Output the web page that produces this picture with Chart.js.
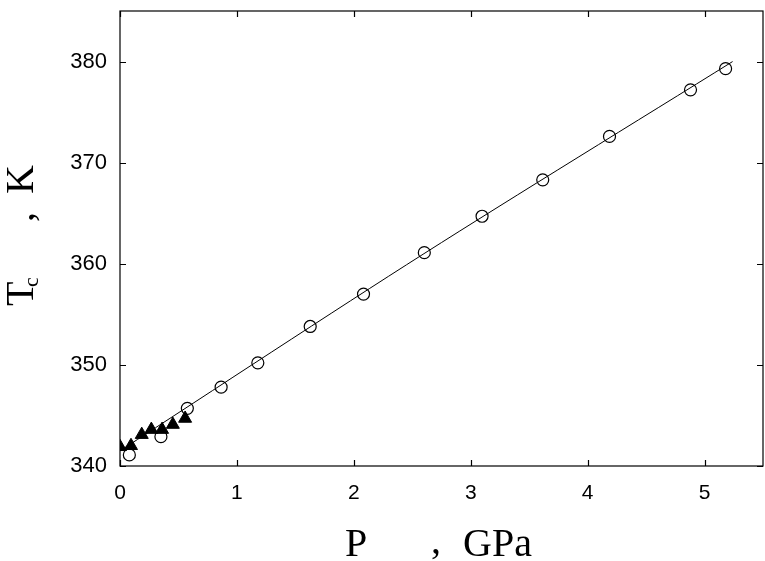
<!DOCTYPE html>
<html>
<head>
<meta charset="utf-8">
<script src="https://cdn.jsdelivr.net/npm/chart.js@4"></script>
<style>
  html, body { margin: 0; padding: 0; background: #fff; overflow: hidden; }
  canvas { display: block; }
</style>
</head>
<body>
<canvas id="c" width="765" height="561" style="width:765px;height:561px"></canvas>
<script>
// ---- data ----
const circleP = [0.08, 0.35, 0.576, 0.865, 1.179, 1.627, 2.083, 2.603, 3.097, 3.616, 4.187, 4.880, 5.180];
const circleT = [341.1, 342.9, 345.7, 347.8, 350.2, 353.8, 357.0, 361.1, 364.7, 368.3, 372.6, 377.2, 379.3];
const triP = [0.0, 0.094, 0.186, 0.268, 0.360, 0.452, 0.557];
const triT = [341.9, 342.0, 343.1, 343.6, 343.6, 344.1, 344.7];
const fitP = [0.0, 2.6, 5.24];
const fitT = [341.5, 361.0, 380.0];
const xTicks = [0, 1, 2, 3, 4, 5];
const yTicks = [340, 350, 360, 370, 380];
const xTitleParts = ['P', ',', 'GPa'];
const yTitleParts = ['T', 'c', ',', 'K'];

const toXY = (xs, ys) => xs.map((x, i) => ({ x: x, y: ys[i] }));

// pin the plot frame to the reference geometry
const AREA = { left: 120, top: 11, right: 763, bottom: 466 };
const areaPlugin = {
  id: 'area',
  afterLayout(chart) {
    const a = chart.chartArea;
    a.left = AREA.left; a.right = AREA.right; a.top = AREA.top; a.bottom = AREA.bottom;
    a.width = a.right - a.left; a.height = a.bottom - a.top;
    const x = chart.scales.x, y = chart.scales.y;
    x.left = a.left; x.right = a.right; x.width = a.width; x.top = a.bottom; x.bottom = chart.height;
    y.top = a.top; y.bottom = a.bottom; y.height = a.height; y.left = 0; y.right = a.left;
    x.configure(); y.configure();
  }
};

const framePlugin = {
  id: 'frame',
  afterDraw(chart) {
    const { ctx, chartArea: a, scales } = chart;
    ctx.save();
    ctx.strokeStyle = '#000';
    ctx.lineWidth = 1.2;
    ctx.strokeRect(a.left, a.top, a.right - a.left, a.bottom - a.top);
    const tl = 6;
    ctx.beginPath();
    scales.x.ticks.forEach(t => {
      const px = Math.round(scales.x.getPixelForValue(t.value)) + 0.5;
      ctx.moveTo(px, a.bottom); ctx.lineTo(px, a.bottom - tl);
      ctx.moveTo(px, a.top); ctx.lineTo(px, a.top + tl);
    });
    scales.y.ticks.forEach(t => {
      const py = Math.round(scales.y.getPixelForValue(t.value)) + 0.5;
      ctx.moveTo(a.left, py); ctx.lineTo(a.left + tl, py);
      ctx.moveTo(a.right, py); ctx.lineTo(a.right - tl, py);
    });
    ctx.stroke();

    // axis titles
    ctx.fillStyle = '#000';
    ctx.textBaseline = 'alphabetic';
    ctx.textAlign = 'left';
    ctx.font = '40px "Liberation Serif"';
    ctx.fillText(xTitleParts[0], 345, 556);
    ctx.fillText(xTitleParts[1], 431, 553);
    ctx.fillText(xTitleParts[2], 463, 556);

    ctx.translate(33, 306);
    ctx.rotate(-Math.PI / 2);
    ctx.font = '40px "Liberation Serif"';
    ctx.fillText(yTitleParts[0], 0, 0);
    ctx.font = '22px "Liberation Serif"';
    ctx.fillText(yTitleParts[1], 19, 5);
    ctx.font = '40px "Liberation Serif"';
    ctx.fillText(yTitleParts[2], 84, 0);
    ctx.fillText(yTitleParts[3], 112, 0);
    ctx.restore();
  }
};

new Chart(document.getElementById('c'), {
  type: 'scatter',
  data: {
    datasets: [
      {
        type: 'line',
        data: toXY(fitP, fitT),
        borderColor: '#000',
        borderWidth: 1,
        pointRadius: 0,
        fill: false,
        tension: 0.3
      },
      {
        data: toXY(circleP, circleT),
        pointStyle: 'circle',
        pointRadius: 6,
        borderColor: '#000',
        borderWidth: 1.2,
        backgroundColor: 'rgba(0,0,0,0)'
      },
      {
        data: toXY(triP, triT),
        pointStyle: 'triangle',
        pointRadius: 7.5,
        borderColor: '#000',
        borderWidth: 1,
        backgroundColor: '#000'
      }
    ]
  },
  options: {
    responsive: false,
    maintainAspectRatio: false,
    animation: false,
    devicePixelRatio: 1,
    layout: { padding: { left: 0, top: 11, right: 2, bottom: 0 } },
    plugins: { legend: { display: false }, tooltip: { enabled: false } },
    scales: {
      x: {
        type: 'linear',
        min: 0, max: 5.5,
        afterBuildTicks: s => { s.ticks = xTicks.map(v => ({ value: v })); },
        afterFit: s => { s.height = 95; s.paddingLeft = 0; s.paddingRight = 0; },
        grid: { display: false, drawTicks: false },
        border: { display: false },
        ticks: { color: '#000', padding: 15, maxRotation: 0, font: { family: 'Liberation Sans', size: 21 } }
      },
      y: {
        type: 'linear',
        min: 340, max: 385,
        afterBuildTicks: s => { s.ticks = yTicks.map(v => ({ value: v })); },
        afterFit: s => { s.width = 120; s.paddingTop = 0; s.paddingBottom = 0; },
        grid: { display: false, drawTicks: false },
        border: { display: false },
        ticks: { color: '#000', padding: 13, font: { family: 'Liberation Sans', size: 22 } }
      }
    }
  },
  plugins: [areaPlugin, framePlugin]
});
</script>
</body>
</html>
